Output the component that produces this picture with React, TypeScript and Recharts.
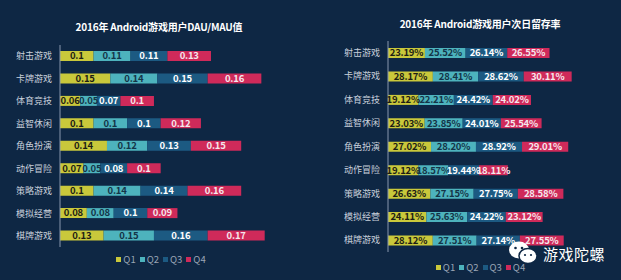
import React from 'react';
import { BarChart, Bar, XAxis, YAxis, LabelList, Legend } from 'recharts';

const categories = ['射击游戏', '卡牌游戏', '体育竞技', '益智休闲', '角色扮演', '动作冒险', '策略游戏', '模拟经营', '棋牌游戏'];
const quarters = ['Q1', 'Q2', 'Q3', 'Q4'];

const dauQ1 = [0.1, 0.15, 0.06, 0.1, 0.14, 0.07, 0.1, 0.08, 0.13];
const dauQ2 = [0.11, 0.14, 0.05, 0.1, 0.12, 0.05, 0.14, 0.08, 0.15];
const dauQ3 = [0.11, 0.15, 0.07, 0.1, 0.13, 0.08, 0.14, 0.1, 0.16];
const dauQ4 = [0.13, 0.16, 0.1, 0.12, 0.15, 0.1, 0.16, 0.09, 0.17];

const retQ1 = [23.19, 28.17, 19.12, 23.03, 27.02, 19.12, 26.63, 24.11, 28.12];
const retQ2 = [25.52, 28.41, 22.21, 23.85, 28.2, 18.57, 27.15, 25.63, 27.51];
const retQ3 = [26.14, 28.62, 24.42, 24.01, 28.92, 19.44, 27.75, 24.22, 27.14];
const retQ4 = [26.55, 30.11, 24.02, 25.54, 29.01, 18.11, 28.58, 23.12, 27.55];

const colors = ['#c9c83b', '#4db3bd', '#1c5a82', '#cf2a5a'];
const labelColors = ['#1e1e14', '#143548', '#ffffff', '#f6e6ec'];

const dauData = categories.map((name, i) => ({ name, Q1: dauQ1[i], Q2: dauQ2[i], Q3: dauQ3[i], Q4: dauQ4[i] }));
const retData = categories.map((name, i) => ({ name, Q1: retQ1[i], Q2: retQ2[i], Q3: retQ3[i], Q4: retQ4[i] }));

const FONT = '"Noto Sans CJK SC", "Noto Sans", sans-serif';

function LegendContent({ payload }: any) {
  return (
    <div style={{ display: 'flex', justifyContent: 'center', height: 14, alignItems: 'center', fontFamily: FONT }}>
      {(payload || []).map((p: any) => (
        <div key={p.value} style={{ display: 'flex', alignItems: 'center', margin: '0 2px' }}>
          <span style={{ display: 'inline-block', width: 5, height: 5, background: p.color, marginRight: 2 }} />
          <span style={{ color: '#9aa5b5', fontSize: 9.5 }}>{p.value}</span>
        </div>
      ))}
    </div>
  );
}

function Panel({ data, width, axisWidth, domain, margin, fmt, legendLeft, legendPad }: any) {
  return (
    <BarChart layout="vertical" width={width} height={280} data={data} margin={margin} style={{ fontFamily: FONT }}>
      <XAxis type="number" hide domain={domain} allowDataOverflow />
      <YAxis
        type="category"
        dataKey="name"
        width={axisWidth}
        tickLine={false}
        tickSize={0}
        tickMargin={8}
        axisLine={{ stroke: '#8797ad', strokeWidth: 1 }}
        tick={{ fill: '#c9d1dc', fontSize: 9 }}
      />
      <Legend
        verticalAlign="bottom"
        content={<LegendContent />}
        wrapperStyle={{ paddingTop: legendPad, left: legendLeft }}
      />
      {quarters.map((q, k) => (
        <Bar key={q} dataKey={q} stackId="a" fill={colors[k]} barSize={10} isAnimationActive={false}>
          <LabelList
            dataKey={q}
            position="center"
            formatter={fmt}
            fill={labelColors[k]}
            style={{ fontSize: 9.5, fontWeight: 700, fontFamily: FONT, letterSpacing: -0.2 }}
          />
        </Bar>
      ))}
    </BarChart>
  );
}

export default function App() {
  return (
    <div style={{ position: 'absolute', left: 0, top: 0, width: 621, height: 280, background: '#0e2744', overflow: 'hidden', fontFamily: FONT }}>
      <div style={{ position: 'absolute', left: 0, top: 19, width: 318, textAlign: 'center', color: '#ffffff', fontSize: 10, fontWeight: 700, letterSpacing: -0.2 }}>
        2016年 Android游戏用户DAU/MAU值
      </div>
      <div style={{ position: 'absolute', left: 310, top: 16, width: 340, textAlign: 'center', color: '#ffffff', fontSize: 10, fontWeight: 700, letterSpacing: -0.2 }}>
        2016年 Android游戏用户次日留存率
      </div>
      <div style={{ position: 'absolute', left: 0, top: 0 }}>
        <Panel
          data={dauData}
          width={310}
          axisWidth={60}
          domain={[0, 0.745]}
          margin={{ top: 45, right: 0, left: 0, bottom: 14 }}
          fmt={(v: number) => String(v)}
          legendLeft={6}
          legendPad={5}
        />
      </div>
      <div style={{ position: 'absolute', left: 310, top: 0 }}>
        <Panel
          data={retData}
          width={311}
          axisWidth={78}
          domain={[0, 140]}
          margin={{ top: 41, right: 10, left: 0, bottom: 6 }}
          fmt={(v: number) => v.toFixed(2) + '%'}
          legendLeft={20}
          legendPad={8}
        />
      </div>
      <div style={{ position: 'absolute', left: 508, top: 240, display: 'flex', alignItems: 'center' }}>
        <svg width="32" height="26" viewBox="0 0 32 26">
          <ellipse cx="11" cy="10" rx="10" ry="8.5" fill="#ffffff" />
          <ellipse cx="20" cy="16" rx="9" ry="7.5" fill="#ffffff" stroke="#0e2744" strokeWidth="1.5" />
          <circle cx="7.5" cy="8" r="1.3" fill="#0e2744" />
          <circle cx="14" cy="8" r="1.3" fill="#0e2744" />
          <circle cx="17" cy="15" r="1.1" fill="#0e2744" />
          <circle cx="23" cy="15" r="1.1" fill="#0e2744" />
        </svg>
        <span style={{ color: '#ffffff', fontSize: 15, marginLeft: 3, letterSpacing: 0.5 }}>游戏陀螺</span>
      </div>
    </div>
  );
}
